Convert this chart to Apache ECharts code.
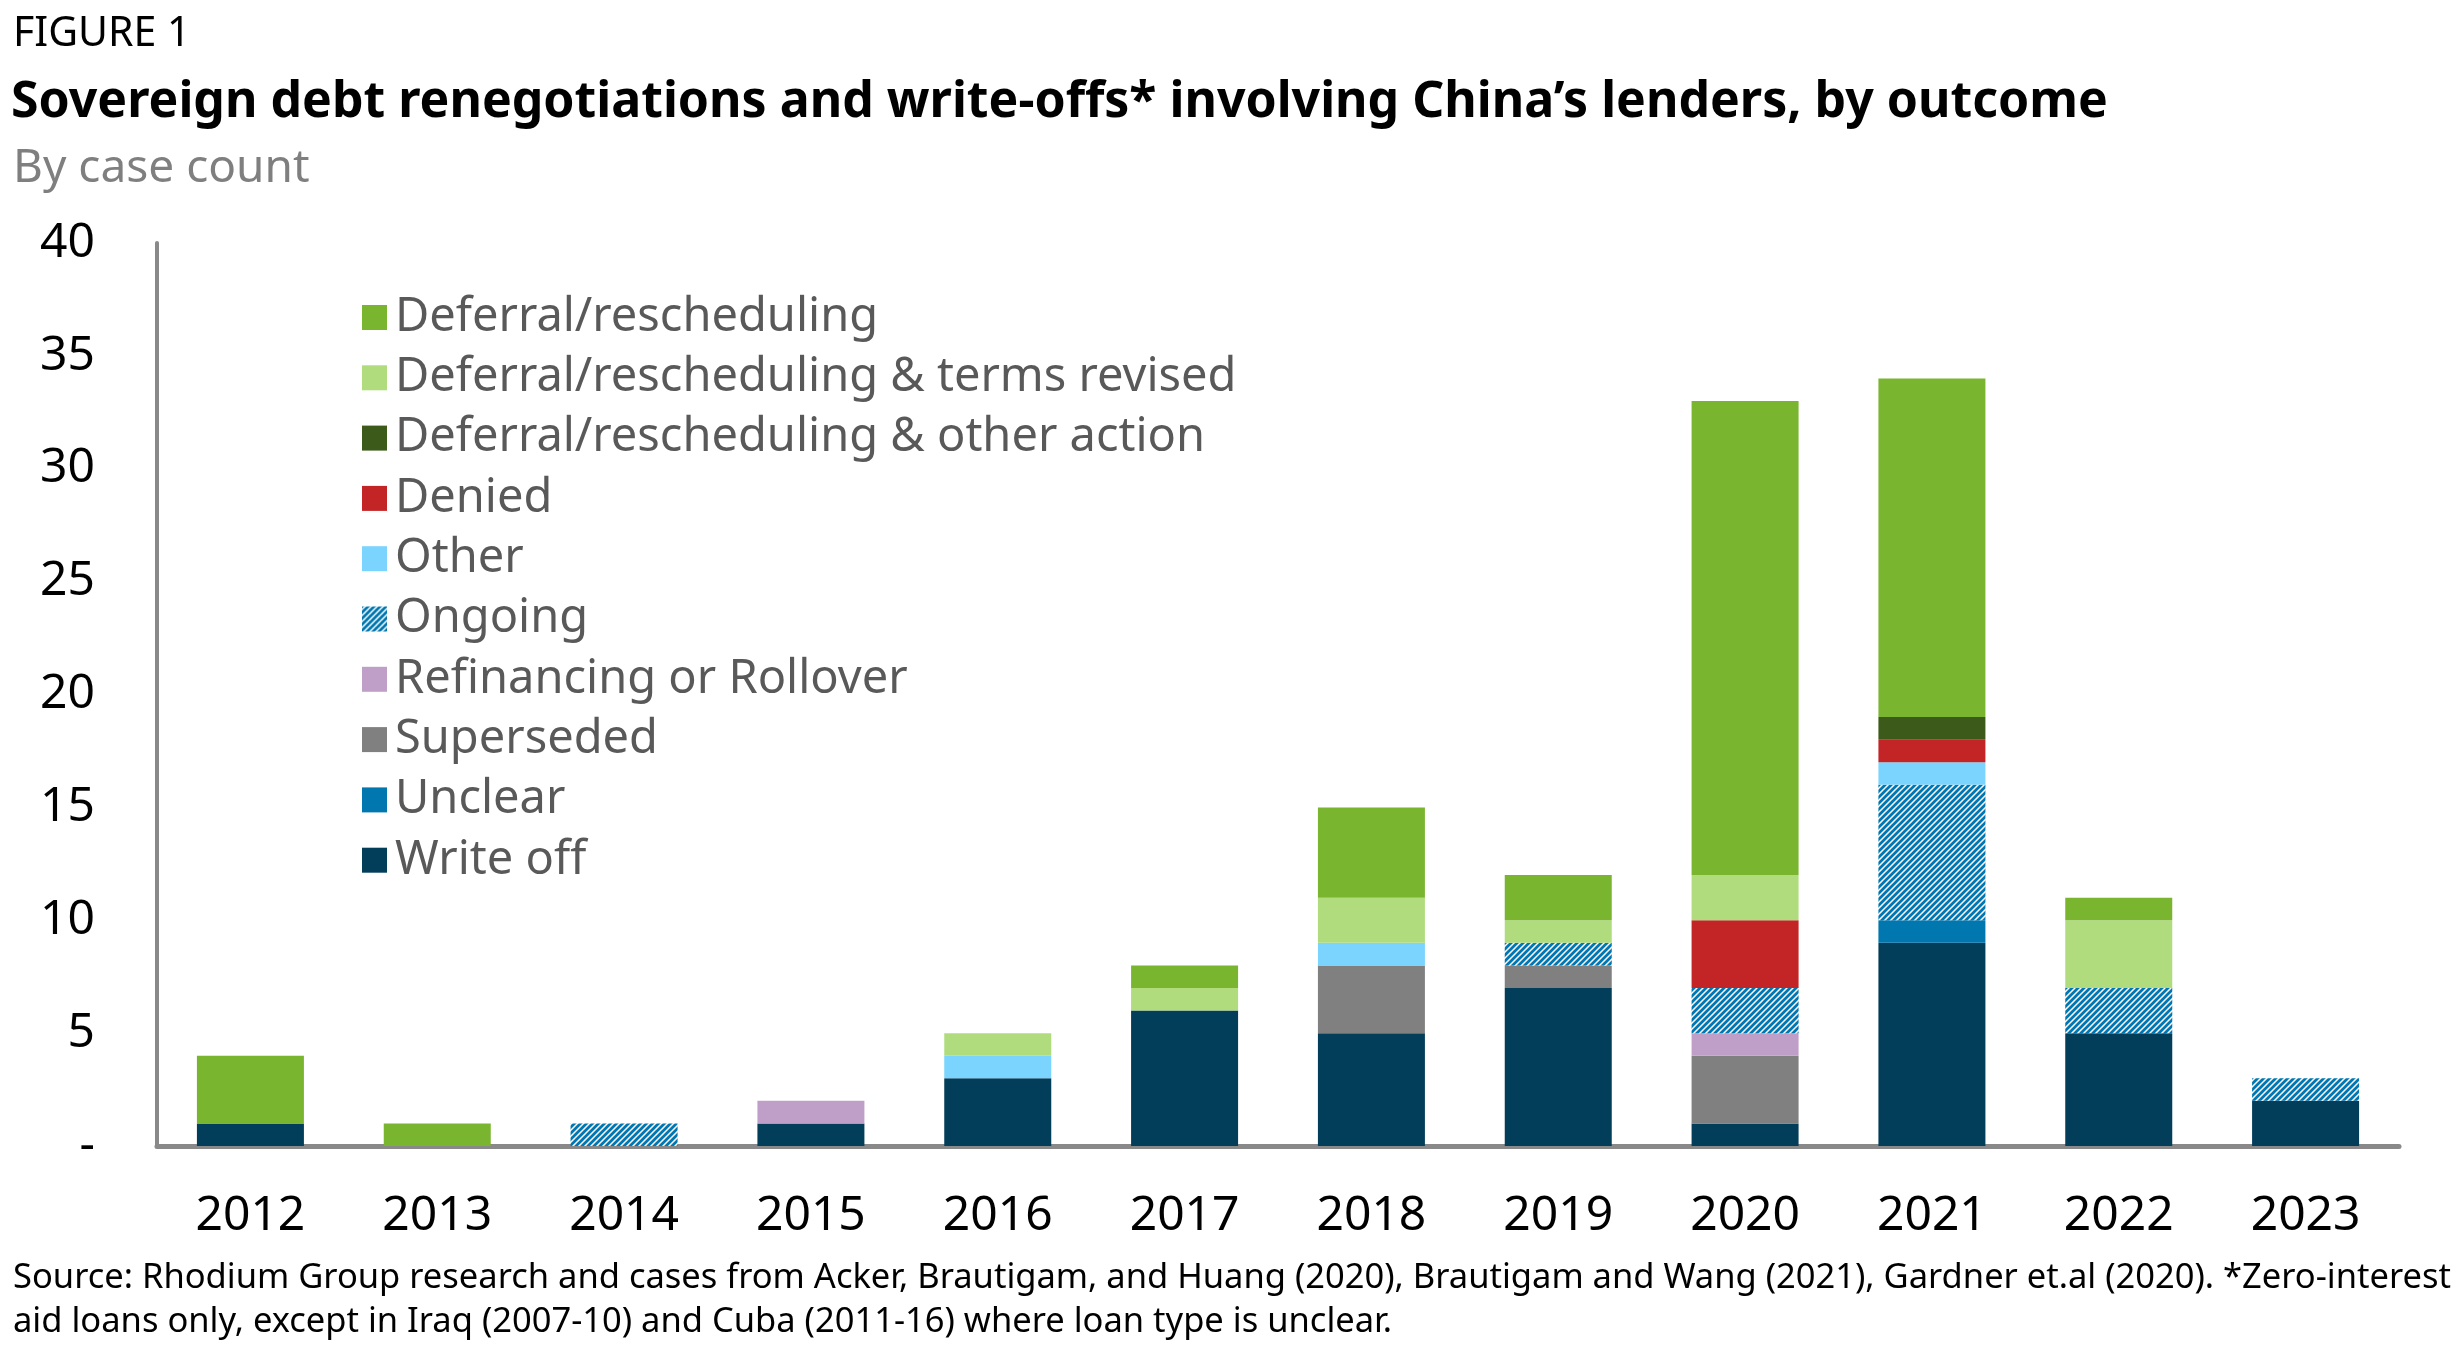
<!DOCTYPE html>
<html>
<head>
<meta charset="utf-8">
<script src="https://cdn.jsdelivr.net/npm/echarts@6/dist/echarts.min.js"></script>
<style>
html,body{margin:0;padding:0;background:#fff;}
#chart{width:2458px;height:1347px;}
</style>
</head>
<body>
<div id="chart"></div>
<script>
const years = ['2012','2013','2014','2015','2016','2017','2018','2019','2020','2021','2022','2023'];
const writeOff     = [1,0,0,1,3,6,5,7,1,9,5,2];
const unclear      = [0,0,0,0,0,0,0,0,0,1,0,0];
const superseded   = [0,0,0,0,0,0,3,1,3,0,0,0];
const refinancing  = [0,0,0,1,0,0,0,0,1,0,0,0];
const ongoing      = [0,0,1,0,0,0,0,1,2,6,2,1];
const other        = [0,0,0,0,1,0,1,0,0,1,0,0];
const denied       = [0,0,0,0,0,0,0,0,3,1,0,0];
const otherAction  = [0,0,0,0,0,0,0,0,0,1,0,0];
const termsRevised = [0,0,0,0,1,1,2,1,2,0,3,0];
const deferral     = [3,1,0,0,0,1,4,2,21,15,1,0];
const yTicks = [0,5,10,15,20,25,30,35,40];

function makeHatch(){
  const s = 6;
  const c = document.createElement('canvas');
  c.width = s; c.height = s;
  const g = c.getContext('2d');
  g.fillStyle = '#ffffff'; g.fillRect(0,0,s,s);
  g.strokeStyle = '#0077B0'; g.lineWidth = 2.8;
  g.beginPath();
  g.moveTo(-s, s*2); g.lineTo(s*2, -s);
  g.moveTo(-s, s); g.lineTo(s, -s);
  g.moveTo(0, s*2); g.lineTo(s*2, 0);
  g.stroke();
  return c;
}
const hatch = {image: makeHatch(), repeat: 'repeat'};

const seriesDefs = [
  ['Write off', writeOff, '#023D5A'],
  ['Unclear', unclear, '#0077AF'],
  ['Superseded', superseded, '#808080'],
  ['Refinancing or Rollover', refinancing, '#BF9FC8'],
  ['Ongoing', ongoing, hatch],
  ['Other', other, '#7AD4FE'],
  ['Denied', denied, '#C32526'],
  ['Deferral/rescheduling & other action', otherAction, '#3C5A19'],
  ['Deferral/rescheduling & terms revised', termsRevised, '#B0DC7E'],
  ['Deferral/rescheduling', deferral, '#7AB530']
];

const FONT = "'Noto Sans', 'Open Sans', sans-serif";

const chart = echarts.init(document.getElementById('chart'), null, {renderer:'canvas'});
chart.setOption({
  animation: false,
  backgroundColor: '#ffffff',
  textStyle: {fontFamily: FONT},
  graphic: [
    {type:'text', left:13, top:14, style:{text:'FIGURE 1', fill:'#000', font:"400 41px 'Noto Sans', sans-serif"}},
    {type:'text', left:11, top:78, style:{text:'Sovereign debt renegotiations and write-offs* involving China’s lenders, by outcome', fill:'#000', font:"700 50px 'Noto Sans', sans-serif"}},
    {type:'text', left:13, top:146, style:{text:'By case count', fill:'#7F7F7F', font:"400 46px 'Noto Sans', sans-serif"}},
    {type:'text', left:13, top:1261, style:{text:'Source: Rhodium Group research and cases from Acker, Brautigam, and Huang (2020), Brautigam and Wang (2021), Gardner et.al (2020). *Zero-interest', fill:'#000', font:"400 34.5px 'Noto Sans', sans-serif"}},
    {type:'text', left:13, top:1305, style:{text:'aid loans only, except in Iraq (2007-10) and Cuba (2011-16) where loan type is unclear.', fill:'#000', font:"400 34.5px 'Noto Sans', sans-serif"}}
  ],
  legend: {
    orient: 'vertical',
    left: 357,
    top: 289,
    itemWidth: 25,
    itemHeight: 25,
    itemGap: 13.3,
    icon: 'rect',
    selectedMode: false,
    data: seriesDefs.map(d => d[0]).reverse(),
    textStyle: {fontSize: 47, color: '#595959', lineHeight: 44, padding: [0,0,0,3], fontFamily: FONT}
  },
  grid: {left: 157, right: 59, top: 243, bottom: 201, containLabel: false},
  xAxis: {
    type: 'category',
    data: years,
    axisLine: {show: true, lineStyle: {color: '#898989', width: 5}},
    axisTick: {show: false},
    axisLabel: {fontSize: 48, color: '#000', margin: 46, fontFamily: FONT}
  },
  yAxis: {
    type: 'value',
    min: yTicks[0],
    max: yTicks[yTicks.length-1],
    interval: 5,
    axisLine: {show: true, lineStyle: {color: '#898989', width: 4}},
    axisTick: {show: false},
    splitLine: {show: false},
    axisLabel: {
      fontSize: 48, color: '#000', margin: 62, fontFamily: FONT,
      formatter: v => v === 0 ? '-' : String(v)
    }
  },
  series: seriesDefs.map(d => ({
    name: d[0],
    type: 'bar',
    stack: 'total',
    barWidth: 107,
    data: d[1],
    itemStyle: {color: d[2]},
    emphasis: {disabled: true}
  }))
});
</script>
</body>
</html>
